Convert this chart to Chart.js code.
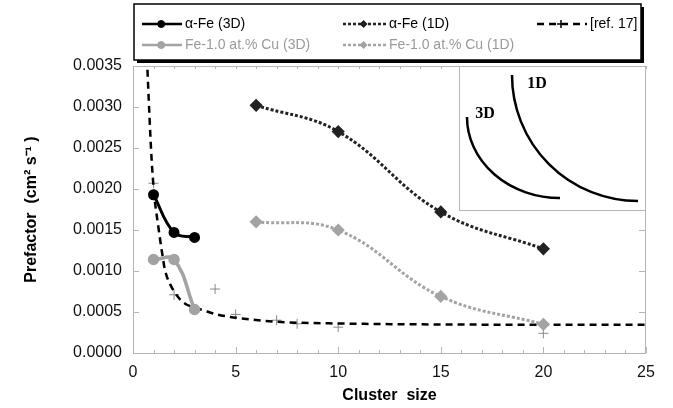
<!DOCTYPE html>
<html>
<head>
<meta charset="utf-8">
<script src="https://cdn.jsdelivr.net/npm/chart.js@4/dist/chart.umd.min.js"></script>
<style>
  html, body { margin: 0; padding: 0; background: #fff; }
  #wrap { position: relative; width: 673px; height: 408px; }
</style>
</head>
<body>
<div id="wrap"><canvas id="chart" width="673" height="408"></canvas></div>
<script>
// prefactor (cm^2 s^-1) against cluster size
const sizes3D = [1, 2, 3];
const feAlpha3D = [0.00193, 0.00147, 0.00141];
const feCu3D = [0.00114, 0.00114, 0.00053];

const sizes1D = [6, 10, 15, 20];
const feAlpha1D = [0.00302, 0.00270, 0.00172, 0.00127];
const feCu1D = [0.00160, 0.00150, 0.00069, 0.00035];

const refCurveX = [0.68, 0.8, 0.91, 1.03, 1.24, 1.4, 1.56, 1.81, 2.14, 2.54, 2.95, 3.44, 4.09, 4.74, 5.72, 7.03, 10, 15, 20, 25];
const refCurveY = [0.0036, 0.0029, 0.00235, 0.00194, 0.00153, 0.00125, 0.00101, 0.00084, 0.00070, 0.00060, 0.00056, 0.00052, 0.00047, 0.00044, 0.00041, 0.00038, 0.00036, 0.000348, 0.000345, 0.000345];
const refPointsX = [1, 2, 4, 5, 7, 8, 10, 20];
const refPointsY = [0.00207, 0.00071, 0.00078, 0.00047, 0.00040, 0.000356, 0.000315, 0.00024];

const labels = ['\u03b1-Fe (3D)', 'Fe-1.0 at.% Cu (3D)', '\u03b1-Fe (1D)', 'Fe-1.0 at.% Cu (1D)', '[ref. 17]'];

const xy = (xs, ys) => xs.map((x, i) => ({ x: x, y: ys[i] }));

const FRAME = '#b5b5b5';
const GREY = '#a3a3a3';

Chart.defaults.font.family = '"Liberation Sans", Arial, sans-serif';

// frame, inward ticks, legend box and the inset sketch
const decorations = {
  id: 'decorations',
  afterDraw(chart) {
    const ctx = chart.ctx;
    const a = chart.chartArea;
    const xs = chart.scales.x, ys = chart.scales.y;
    ctx.save();

    // frame
    ctx.strokeStyle = FRAME;
    ctx.lineWidth = 1;
    ctx.strokeRect(a.left + 0.5, a.top + 0.5, a.right - a.left - 1, a.bottom - a.top);

    // x ticks (bottom pointing up, top pointing down)
    for (let v = xs.min; v <= xs.max; v++) {
      const px = Math.round(xs.getPixelForValue(v)) + 0.5;
      const len = v % 5 === 0 ? 6 : 3;
      ctx.beginPath();
      ctx.moveTo(px, a.bottom); ctx.lineTo(px, a.bottom - len);
      ctx.moveTo(px, a.top); ctx.lineTo(px, a.top + 3);
      ctx.stroke();
    }
    // y ticks
    ys.ticks.forEach(t => {
      const py = Math.round(ys.getPixelForValue(t.value)) + 0.5;
      ctx.beginPath();
      ctx.moveTo(a.left, py); ctx.lineTo(a.left + 6, py);
      ctx.moveTo(a.right, py); ctx.lineTo(a.right - 7, py);
      ctx.stroke();
    });

    // inset
    const ix = 459, iy = 66, iw = a.right - 459, ih = 144;
    ctx.fillStyle = '#fff';
    ctx.fillRect(ix, iy + 1, iw, ih);
    ctx.strokeStyle = FRAME;
    ctx.strokeRect(ix + 0.5, iy + 0.5, iw - 1, ih);
    ctx.strokeStyle = '#000';
    ctx.lineWidth = 2.5;
    ctx.beginPath();
    ctx.ellipse(560, 117, 93, 81, 0, Math.PI / 2, Math.PI);
    ctx.stroke();
    ctx.beginPath();
    ctx.ellipse(638, 75, 126, 126, 0, Math.PI / 2, Math.PI);
    ctx.stroke();
    ctx.fillStyle = '#000';
    ctx.font = 'bold 16px "Liberation Serif", "Times New Roman", serif';
    ctx.textAlign = 'center';
    ctx.textBaseline = 'middle';
    ctx.fillText('3D', 485, 114);
    ctx.fillText('1D', 537, 84);

    // legend box with drop shadow
    const bl = 134, bt = 4, bw = 507, bh = 56;
    ctx.fillStyle = '#000';
    ctx.fillRect(bl + 3, bt + 3, bw, bh);
    ctx.fillStyle = '#fff';
    ctx.fillRect(bl, bt, bw, bh);
    ctx.strokeStyle = '#000';
    ctx.lineWidth = 1.5;
    ctx.strokeRect(bl, bt, bw, bh);

    const entries = [
      { ds: 0, x: 142, y: 24, len: 40 },
      { ds: 2, x: 343, y: 24, len: 43 },
      { ds: 4, x: 537, y: 24, len: 50, marker: 5 },
      { ds: 1, x: 142, y: 45, len: 40 },
      { ds: 3, x: 343, y: 45, len: 43 }
    ];
    ctx.textAlign = 'left';
    ctx.textBaseline = 'middle';
    ctx.font = '14px "Liberation Sans", Arial, sans-serif';
    entries.forEach(e => {
      const d = chart.data.datasets[e.ds];
      ctx.strokeStyle = d.borderColor;
      ctx.lineWidth = Math.min(d.borderWidth, 2.5);
      ctx.setLineDash(d.borderDash || []);
      ctx.beginPath();
      ctx.moveTo(e.x, e.y); ctx.lineTo(e.x + e.len, e.y);
      ctx.stroke();
      ctx.setLineDash([]);
      const m = chart.data.datasets[e.marker !== undefined ? e.marker : e.ds];
      const style = m.pointStyle;
      ctx.fillStyle = d.borderColor;
      ctx.strokeStyle = d.borderColor;
      ctx.lineWidth = style === 'cross' ? 1.5 : 1;
      Chart.helpers.drawPoint(ctx, {
        pointStyle: style, radius: style === 'cross' ? 4 : 3.5, rotation: 0, borderWidth: ctx.lineWidth
      }, e.x + e.len * 0.48, e.y);
      ctx.fillStyle = d.legendColor;
      ctx.fillText(d.label, e.x + e.len + 3, e.y);
    });
    ctx.restore();
  }
};

const chart = new Chart(document.getElementById('chart'), {
  type: 'scatter',
  data: {
    datasets: [
      {
        label: labels[0], data: xy(sizes3D, feAlpha3D), showLine: true, tension: 0.4,
        borderColor: '#000', backgroundColor: '#000', borderWidth: 3,
        pointStyle: 'circle', pointRadius: 4, legendColor: '#000'
      },
      {
        label: labels[1], data: xy(sizes3D, feCu3D), showLine: true, tension: 0.4,
        borderColor: GREY, backgroundColor: GREY, borderWidth: 3.5,
        pointStyle: 'circle', pointRadius: 4, legendColor: '#9a9a9a'
      },
      {
        label: labels[2], data: xy(sizes1D, feAlpha1D), showLine: true, tension: 0.4,
        borderColor: '#222', backgroundColor: '#222', borderWidth: 3, borderDash: [3, 2],
        pointStyle: 'rectRot', pointRadius: 4.5, legendColor: '#000'
      },
      {
        label: labels[3], data: xy(sizes1D, feCu1D), showLine: true, tension: 0.4,
        borderColor: GREY, backgroundColor: GREY, borderWidth: 3, borderDash: [3, 2],
        pointStyle: 'rectRot', pointRadius: 4.5, legendColor: '#9a9a9a'
      },
      {
        label: labels[4], data: xy(refCurveX, refCurveY), showLine: true,
        cubicInterpolationMode: 'monotone',
        borderColor: '#000', borderWidth: 2.5, borderDash: [7, 5],
        pointRadius: 0, legendColor: '#000', pointStyle: 'cross'
      },
      {
        label: 'ref17 points', data: xy(refPointsX, refPointsY), showLine: false,
        pointStyle: 'cross', pointRadius: 5, borderColor: '#8a8a8a', borderWidth: 1
      }
    ]
  },
  options: {
    responsive: false,
    animation: false,
    layout: { padding: { top: 66, right: 27, left: 0, bottom: 0 } },
    plugins: { legend: { display: false }, tooltip: { enabled: false } },
    scales: {
      x: {
        type: 'linear', min: 0, max: 25,
        grid: { display: false, drawTicks: false },
        border: { display: false },
        ticks: { stepSize: 5, padding: 10, color: '#111', font: { size: 16 }, maxRotation: 0 },
        title: {
          display: true, text: 'Cluster  size', color: '#000',
          font: { size: 16, weight: 'bold' }, padding: { top: 0, bottom: 3 }
        },
        afterFit: s => { s.height = 55; }
      },
      y: {
        min: 0, max: 0.0035,
        grid: { display: false, drawTicks: false },
        border: { display: false },
        ticks: {
          stepSize: 0.0005, padding: 11, color: '#111', font: { size: 16 },
          callback: v => v.toFixed(4)
        },
        title: {
          display: true, text: 'Prefactor  (cm\u00b2 s\u207b\u00b9 )', color: '#000',
          font: { size: 16, weight: 'bold' }, padding: { top: 22, bottom: 0 }
        },
        afterFit: s => { s.width = 133; }
      }
    }
  },
  plugins: [decorations]
});
</script>
</body>
</html>
